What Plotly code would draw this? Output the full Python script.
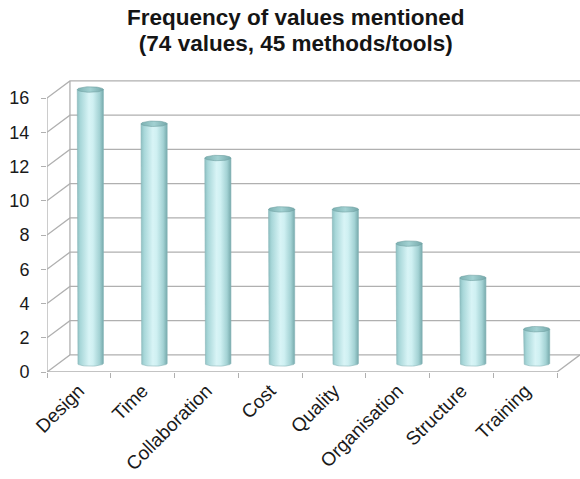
import numpy as np
import plotly.graph_objects as go

# Data
categories = ["Design", "Time", "Collaboration", "Cost", "Quality",
              "Organisation", "Structure", "Training"]
counts = [16, 14, 12, 9, 9, 7, 5, 2]
y_ticks = list(range(0, 17, 2))
title_lines = ["Frequency of values mentioned", "(74 values, 45 methods/tools)"]

# Pseudo-3D geometry (in axis units)
DX, DY = 0.36, 1.0          # depth offset of the back wall
RX, RY = 0.205, 0.16        # cylinder radius (x) and ellipse half-height (y)
GRID = "#b0b0b0"
n = len(categories)
x_max = n + DX

W, H = 580, 479
M_L, M_R, M_T, M_B = 47, 0, 77, 107
plot_h = H - M_T - M_B

fig = go.Figure()

# Walls: left side diagonals + back wall gridlines
gx, gy = [], []
for v in y_ticks:
    gx += [0, DX, x_max, None]
    gy += [v, v + DY, v + DY, None]
# back-left vertical edge
gx += [DX, DX, None]
gy += [DY, y_ticks[-1] + DY, None]
# front-left vertical (value axis)
gx += [0, 0, None]
gy += [0, y_ticks[-1], None]
# floor front edge and right diagonal
gx += [0, n, n + DX, None]
gy += [0, 0, DY, None]
fig.add_trace(go.Scatter(x=gx, y=gy, mode="lines",
                         line=dict(color=GRID, width=1.3),
                         hoverinfo="skip", showlegend=False))

body_scale = [[0.0, "#8dc0c2"], [0.12, "#a8d7d9"], [0.45, "#d8f4f6"],
              [0.6, "#cff0f2"], [0.85, "#a3d2d4"], [1.0, "#77aaac"]]
cap_scale = [[0.0, "#7cb1b2"], [0.5, "#a2d1d2"], [1.0, "#75a8aa"]]

t_half = np.linspace(np.pi, 2 * np.pi, 30)
t_full = np.linspace(0, 2 * np.pi, 60)

for i, (cat, v) in enumerate(zip(categories, counts)):
    cx = i + 0.5 + DX / 2
    y0 = DY / 2
    y1 = v + DY / 2
    # cylinder body: left side, rounded bottom, right side
    bx = [cx - RX] + list(cx + RX * np.cos(t_half)) + [cx + RX, cx - RX]
    by = [y1] + list(y0 + RY * np.sin(t_half)) + [y1, y1]
    fig.add_trace(go.Scatter(
        x=bx, y=by, mode="lines", fill="toself",
        fillgradient=dict(type="horizontal", colorscale=body_scale),
        line=dict(color="#88b6b8", width=0.6),
        name=cat, hovertemplate=f"{cat}: {v}<extra></extra>",
        showlegend=False))
    # top cap
    fig.add_trace(go.Scatter(
        x=list(cx + RX * np.cos(t_full)), y=list(y1 + RY * np.sin(t_full)),
        mode="lines", fill="toself",
        fillgradient=dict(type="horizontal", colorscale=cap_scale),
        line=dict(color="#70a1a3", width=0.6),
        hoverinfo="skip", showlegend=False))

# Two-line title: base font sets the line spacing, spans set glyph size
title_html = "<br>".join(
    f"<span style='font-size:22.5px'><b>{t}</b></span>" for t in title_lines)
fig.add_annotation(
    text=title_html, xref="paper", yref="paper",
    x=(296 - M_L) / (W - M_L - M_R), y=(H - M_B - 30.5) / plot_h,
    xanchor="center", yanchor="middle", showarrow=False, align="center",
    font=dict(size=20.2, color="#151515"))

fig.update_layout(
    width=W, height=H,
    margin=dict(l=M_L, r=M_R, t=M_T, b=M_B, autoexpand=False),
    paper_bgcolor="white", plot_bgcolor="white",
    font=dict(family="Liberation Sans, Arial, sans-serif", color="#1a1a1a"),
    xaxis=dict(
        range=[0, x_max], showgrid=False, zeroline=False, showline=False,
        automargin=False,
        tickmode="array", tickvals=[i + 0.5 for i in range(n)],
        ticktext=categories, tickangle=-45, ticks="",
        ticklabelstandoff=3, tickfont=dict(size=19),
        minor=dict(tickmode="array", tickvals=list(range(n + 1)),
                   ticks="outside", ticklen=5, tickcolor=GRID, showgrid=False),
        fixedrange=True),
    yaxis=dict(
        range=[0, plot_h / 17.12], showgrid=False, zeroline=False,
        showline=False, automargin=False,
        tickmode="array", tickvals=y_ticks, ticks="outside",
        ticklen=5, tickcolor=GRID, ticklabelstandoff=8, tickfont=dict(size=18),
        fixedrange=True),
)

fig.write_html("out.html")
